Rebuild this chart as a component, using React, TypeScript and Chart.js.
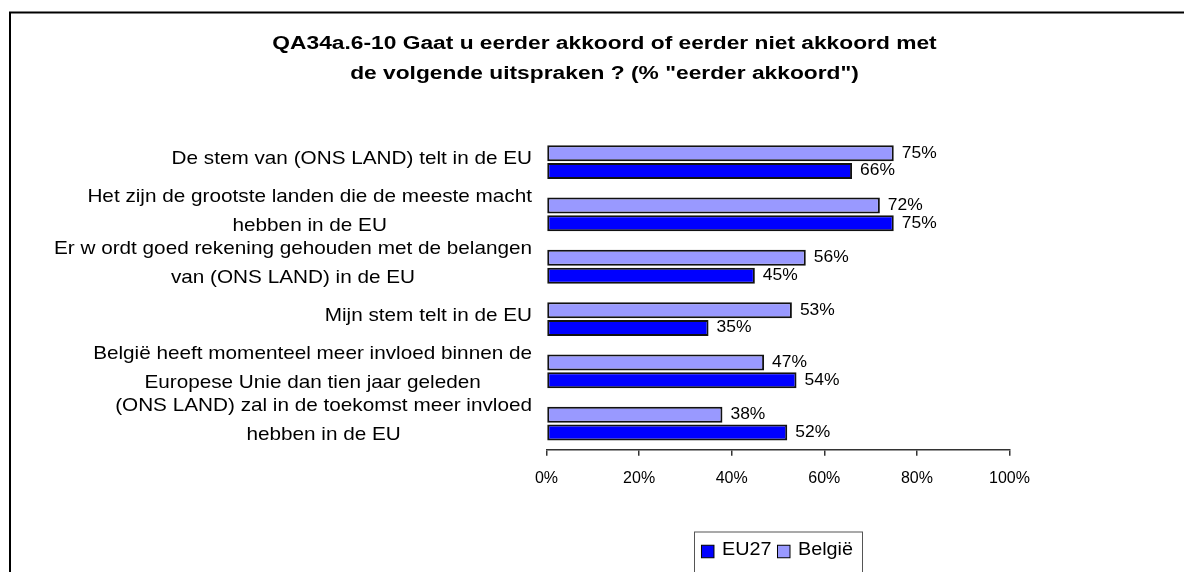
import React, { useEffect, useRef } from "react";
import { Chart, registerables } from "chart.js";

Chart.register(...registerables);

const categories: string[][] = [
  ["De stem van (ONS LAND) telt in de EU"],
  ["Het zijn de grootste landen die de meeste macht", "hebben in de EU"],
  ["Er w ordt goed rekening gehouden met de belangen", "van (ONS LAND) in de EU"],
  ["Mijn stem telt in de EU"],
  ["België heeft momenteel meer invloed binnen de", "Europese Unie dan tien jaar geleden"],
  ["(ONS LAND) zal in de toekomst meer invloed", "hebben in de EU"],
];
const belgieValues = [75, 72, 56, 53, 47, 38];
const eu27Values = [66, 75, 45, 35, 54, 52];
const xTickValues = [0, 20, 40, 60, 80, 100];
const titleLines = [
  "QA34a.6-10 Gaat u eerder akkoord of eerder niet akkoord met",
  'de volgende uitspraken ? (% "eerder akkoord")',
];
const seriesNames = { eu27: "EU27", belgie: "België" };
const colors = { eu27: "#0000FF", belgie: "#9999FF" };

const FONT = "'Liberation Sans', Arial, sans-serif";

function stretchText(
  ctx: CanvasRenderingContext2D,
  text: string,
  x: number,
  y: number,
  sx: number,
  align: CanvasTextAlign
) {
  ctx.save();
  ctx.translate(x, y);
  ctx.scale(sx, 1);
  ctx.textAlign = align;
  ctx.fillText(text, 0, 0);
  ctx.restore();
}

const decorPlugin = {
  id: "decor",
  afterDraw(chart: any) {
    const ctx: CanvasRenderingContext2D = chart.ctx;
    const area = chart.chartArea;
    const yScale = chart.scales.y;
    ctx.save();

    // outer frame
    ctx.strokeStyle = "#000";
    ctx.lineWidth = 2;
    ctx.strokeRect(10, 12.5, 1300, 800);

    // title
    ctx.fillStyle = "#000";
    ctx.textBaseline = "alphabetic";
    ctx.font = `bold 18px ${FONT}`;
    const tSx = 1.265;
    stretchText(ctx, titleLines[0], 604.5, 49, tSx, "center");
    stretchText(ctx, titleLines[1], 604.5, 79, tSx, "center");

    // category labels
    ctx.font = `18.5px ${FONT}`;
    ctx.textBaseline = "middle";
    const lSx = 1.12;
    const lineH = 29;
    const right = area.left - 14.5;
    categories.forEach((lines, i) => {
      const cy = yScale.getPixelForValue(i) - 3;
      const widths = lines.map((l) => ctx.measureText(l).width * lSx);
      const blockW = Math.max(...widths);
      const cx = right - blockW / 2;
      lines.forEach((line, j) => {
        const y = cy + (j - (lines.length - 1) / 2) * lineH;
        stretchText(ctx, line, cx, y, lSx, "center");
      });
    });

    // value labels
    ctx.font = `16px ${FONT}`;
    ctx.textBaseline = "middle";
    chart.data.datasets.forEach((ds: any, di: number) => {
      const meta = chart.getDatasetMeta(di);
      meta.data.forEach((el: any, i: number) => {
        stretchText(ctx, `${ds.data[i]}%`, el.x + 8, el.y, 1.09, "left");
      });
    });

    // legend
    const items = [
      { name: seriesNames.eu27, color: colors.eu27 },
      { name: seriesNames.belgie, color: colors.belgie },
    ];
    ctx.font = `18px ${FONT}`;
    const gSx = 1.1;
    const sq = 12.5;
    const padL = 7.5;
    const padR = 9;
    const gapSqText = 8;
    const gapItems = 6;
    let total = padL + padR;
    const tw = items.map((it) => ctx.measureText(it.name).width * gSx);
    items.forEach((it, k) => {
      total += sq + gapSqText + tw[k];
      if (k < items.length - 1) total += gapItems;
    });
    const cxLeg = (area.left + area.right) / 2;
    const left = cxLeg - total / 2;
    const top = 531.5;
    ctx.strokeStyle = "#555";
    ctx.lineWidth = 1;
    ctx.strokeRect(Math.round(left) + 0.5, top + 0.5, Math.round(total), 60);
    let x = left + padL;
    const midY = 551.5;
    items.forEach((it, k) => {
      ctx.fillStyle = it.color;
      ctx.fillRect(x, midY - sq / 2, sq, sq);
      ctx.strokeStyle = "#000";
      ctx.lineWidth = 1;
      ctx.strokeRect(x, midY - sq / 2, sq, sq);
      x += sq + gapSqText;
      ctx.fillStyle = "#000";
      ctx.textBaseline = "middle";
      stretchText(ctx, it.name, x, midY - 1, gSx, "left");
      x += tw[k] + gapItems;
    });

    ctx.restore();
  },
};

export default function App() {
  const canvasRef = useRef<HTMLCanvasElement | null>(null);

  useEffect(() => {
    if (!canvasRef.current) return;
    Chart.defaults.font.family = FONT;
    const chart = new Chart(canvasRef.current, {
      type: "bar",
      data: {
        labels: categories.map((c) => c.join(" ")),
        datasets: [
          {
            label: seriesNames.belgie,
            data: belgieValues,
            backgroundColor: colors.belgie,
            borderColor: "#111",
            borderWidth: 2,
            borderSkipped: false,
          },
          {
            label: seriesNames.eu27,
            data: eu27Values,
            backgroundColor: colors.eu27,
            borderColor: "#111",
            borderWidth: 2,
            borderSkipped: false,
          },
        ],
      },
      options: {
        indexAxis: "y",
        responsive: false,
        animation: false,
        devicePixelRatio: 1,
        datasets: {
          bar: { categoryPercentage: 0.68, barPercentage: 0.9 },
        },
        layout: {
          padding: { left: 546.5, right: 174.5, top: 136, bottom: 71 },
        },
        plugins: {
          legend: { display: false },
          tooltip: { enabled: false },
          title: { display: false },
        },
        scales: {
          x: {
            min: 0,
            max: 100,
            afterBuildTicks: (axis: any) => {
              axis.ticks = xTickValues.map((v) => ({ value: v }));
            },
            ticks: {
              callback: (v: any) => `${v}%`,
              font: { size: 16, family: FONT },
              color: "#000",
              padding: 13,
              maxRotation: 0,
            },
            grid: {
              drawOnChartArea: false,
              drawTicks: true,
              tickLength: 6,
              color: "#333",
              lineWidth: 1.5,
            },
            border: { display: true, color: "#333", width: 1.5 },
          },
          y: {
            display: false,
          },
        },
      },
      plugins: [decorPlugin],
    });
    return () => chart.destroy();
  }, []);

  return (
    <canvas
      ref={canvasRef}
      width={1184}
      height={572}
      style={{ position: "absolute", left: 0, top: 0, width: 1184, height: 572, display: "block" }}
    />
  );
}
